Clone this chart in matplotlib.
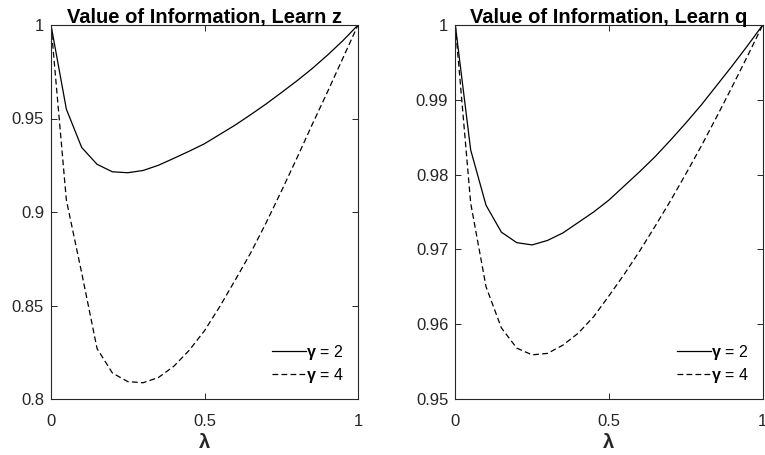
import matplotlib
matplotlib.use("Agg")
import matplotlib.pyplot as plt

plt.rcParams['font.family'] = ['Liberation Sans', 'DejaVu Sans']
plt.rcParams['mathtext.fontset'] = 'custom'
plt.rcParams['mathtext.rm'] = 'Liberation Sans'
plt.rcParams['mathtext.it'] = 'Liberation Sans:italic'
plt.rcParams['mathtext.bf'] = 'Liberation Sans:bold'
plt.rcParams['mathtext.bfit'] = 'Liberation Sans:bold'

lam = [0.00, 0.05, 0.10, 0.15, 0.20, 0.25, 0.30, 0.35, 0.40, 0.45, 0.50,
       0.55, 0.60, 0.65, 0.70, 0.75, 0.80, 0.85, 0.90, 0.95, 1.00]

# Learn z
z_gamma2 = [1.0000, 0.9550, 0.9345, 0.9255, 0.9215, 0.9210, 0.9222, 0.9250,
            0.9287, 0.9325, 0.9365, 0.9415, 0.9465, 0.9520, 0.9577, 0.9638,
            0.9700, 0.9766, 0.9838, 0.9915, 1.0000]
z_gamma4 = [1.0000, 0.9064, 0.8674, 0.8270, 0.8139, 0.8093, 0.8087, 0.8115,
            0.8175, 0.8260, 0.8365, 0.8495, 0.8636, 0.8780, 0.8940, 0.9110,
            0.9285, 0.9465, 0.9640, 0.9820, 1.0000]

# Learn q
q_gamma2 = [1.0000, 0.9833, 0.9759, 0.9723, 0.9709, 0.9706, 0.9712, 0.9722,
            0.9736, 0.9750, 0.9766, 0.9785, 0.9804, 0.9824, 0.9846, 0.9869,
            0.9893, 0.9919, 0.9945, 0.9972, 1.0000]
q_gamma4 = [1.0000, 0.9762, 0.9650, 0.9595, 0.9568, 0.9559, 0.9561, 0.9572,
            0.9588, 0.9610, 0.9638, 0.9667, 0.9698, 0.9731, 0.9765, 0.9801,
            0.9838, 0.9877, 0.9917, 0.9958, 1.0000]

titles = ['Value of Information, Learn z', 'Value of Information, Learn q']
labels = [r'$\boldsymbol{\gamma}$ = 2', r'$\boldsymbol{\gamma}$ = 4']
ylims = [(0.8, 1.0), (0.95, 1.0)]
yticks = [[0.8, 0.85, 0.9, 0.95, 1.0], [0.95, 0.96, 0.97, 0.98, 0.99, 1.0]]
ytick_labels = [['0.8', '0.85', '0.9', '0.95', '1'],
                ['0.95', '0.96', '0.97', '0.98', '0.99', '1']]
xticks = [0, 0.5, 1]
xtick_labels = ['0', '0.5', '1']

ink = '#262626'
fig = plt.figure(figsize=(7.65, 4.55), dpi=100)
W, H = 765, 455
boxes = [(51, 25, 307, 374), (455.3, 25, 307.4, 374)]
series = [(z_gamma2, z_gamma4), (q_gamma2, q_gamma4)]

for i, (x0, y0, w, h) in enumerate(boxes):
    ax = fig.add_axes([x0 / W, (H - y0 - h) / H, w / W, h / H])
    s2, s4 = series[i]
    ax.plot(lam, s2, color='black', lw=0.9, ls='-', label=labels[0])
    ax.plot(lam, s4, color='black', lw=0.9, ls=(0, (4.6, 2.6)), label=labels[1])
    ax.set_xlim(0, 1)
    ax.set_ylim(*ylims[i])
    ax.set_xticks(xticks)
    ax.set_xticklabels(xtick_labels)
    ax.set_yticks(yticks[i])
    ax.set_yticklabels(ytick_labels[i])
    ax.tick_params(direction='in', top=True, right=True, length=4,
                   width=0.7, colors=ink, labelsize=12)
    ax.tick_params(axis='x', pad=10.5)
    ax.tick_params(axis='y', pad=5)
    for sp in ax.spines.values():
        sp.set_color(ink)
        sp.set_linewidth(0.8)
    ax.set_title(titles[i], fontsize=14.5, fontweight='bold', color='black', pad=1.5)
    ax.set_xlabel('λ', fontsize=14.5, fontweight='bold', color=ink, labelpad=3.5)
    ax.legend(loc='lower right', frameon=False, fontsize=11.5, handlelength=2.1,
              handletextpad=0.0, borderaxespad=0.5, labelspacing=0.25)

fig.savefig('out.png', dpi=100)
